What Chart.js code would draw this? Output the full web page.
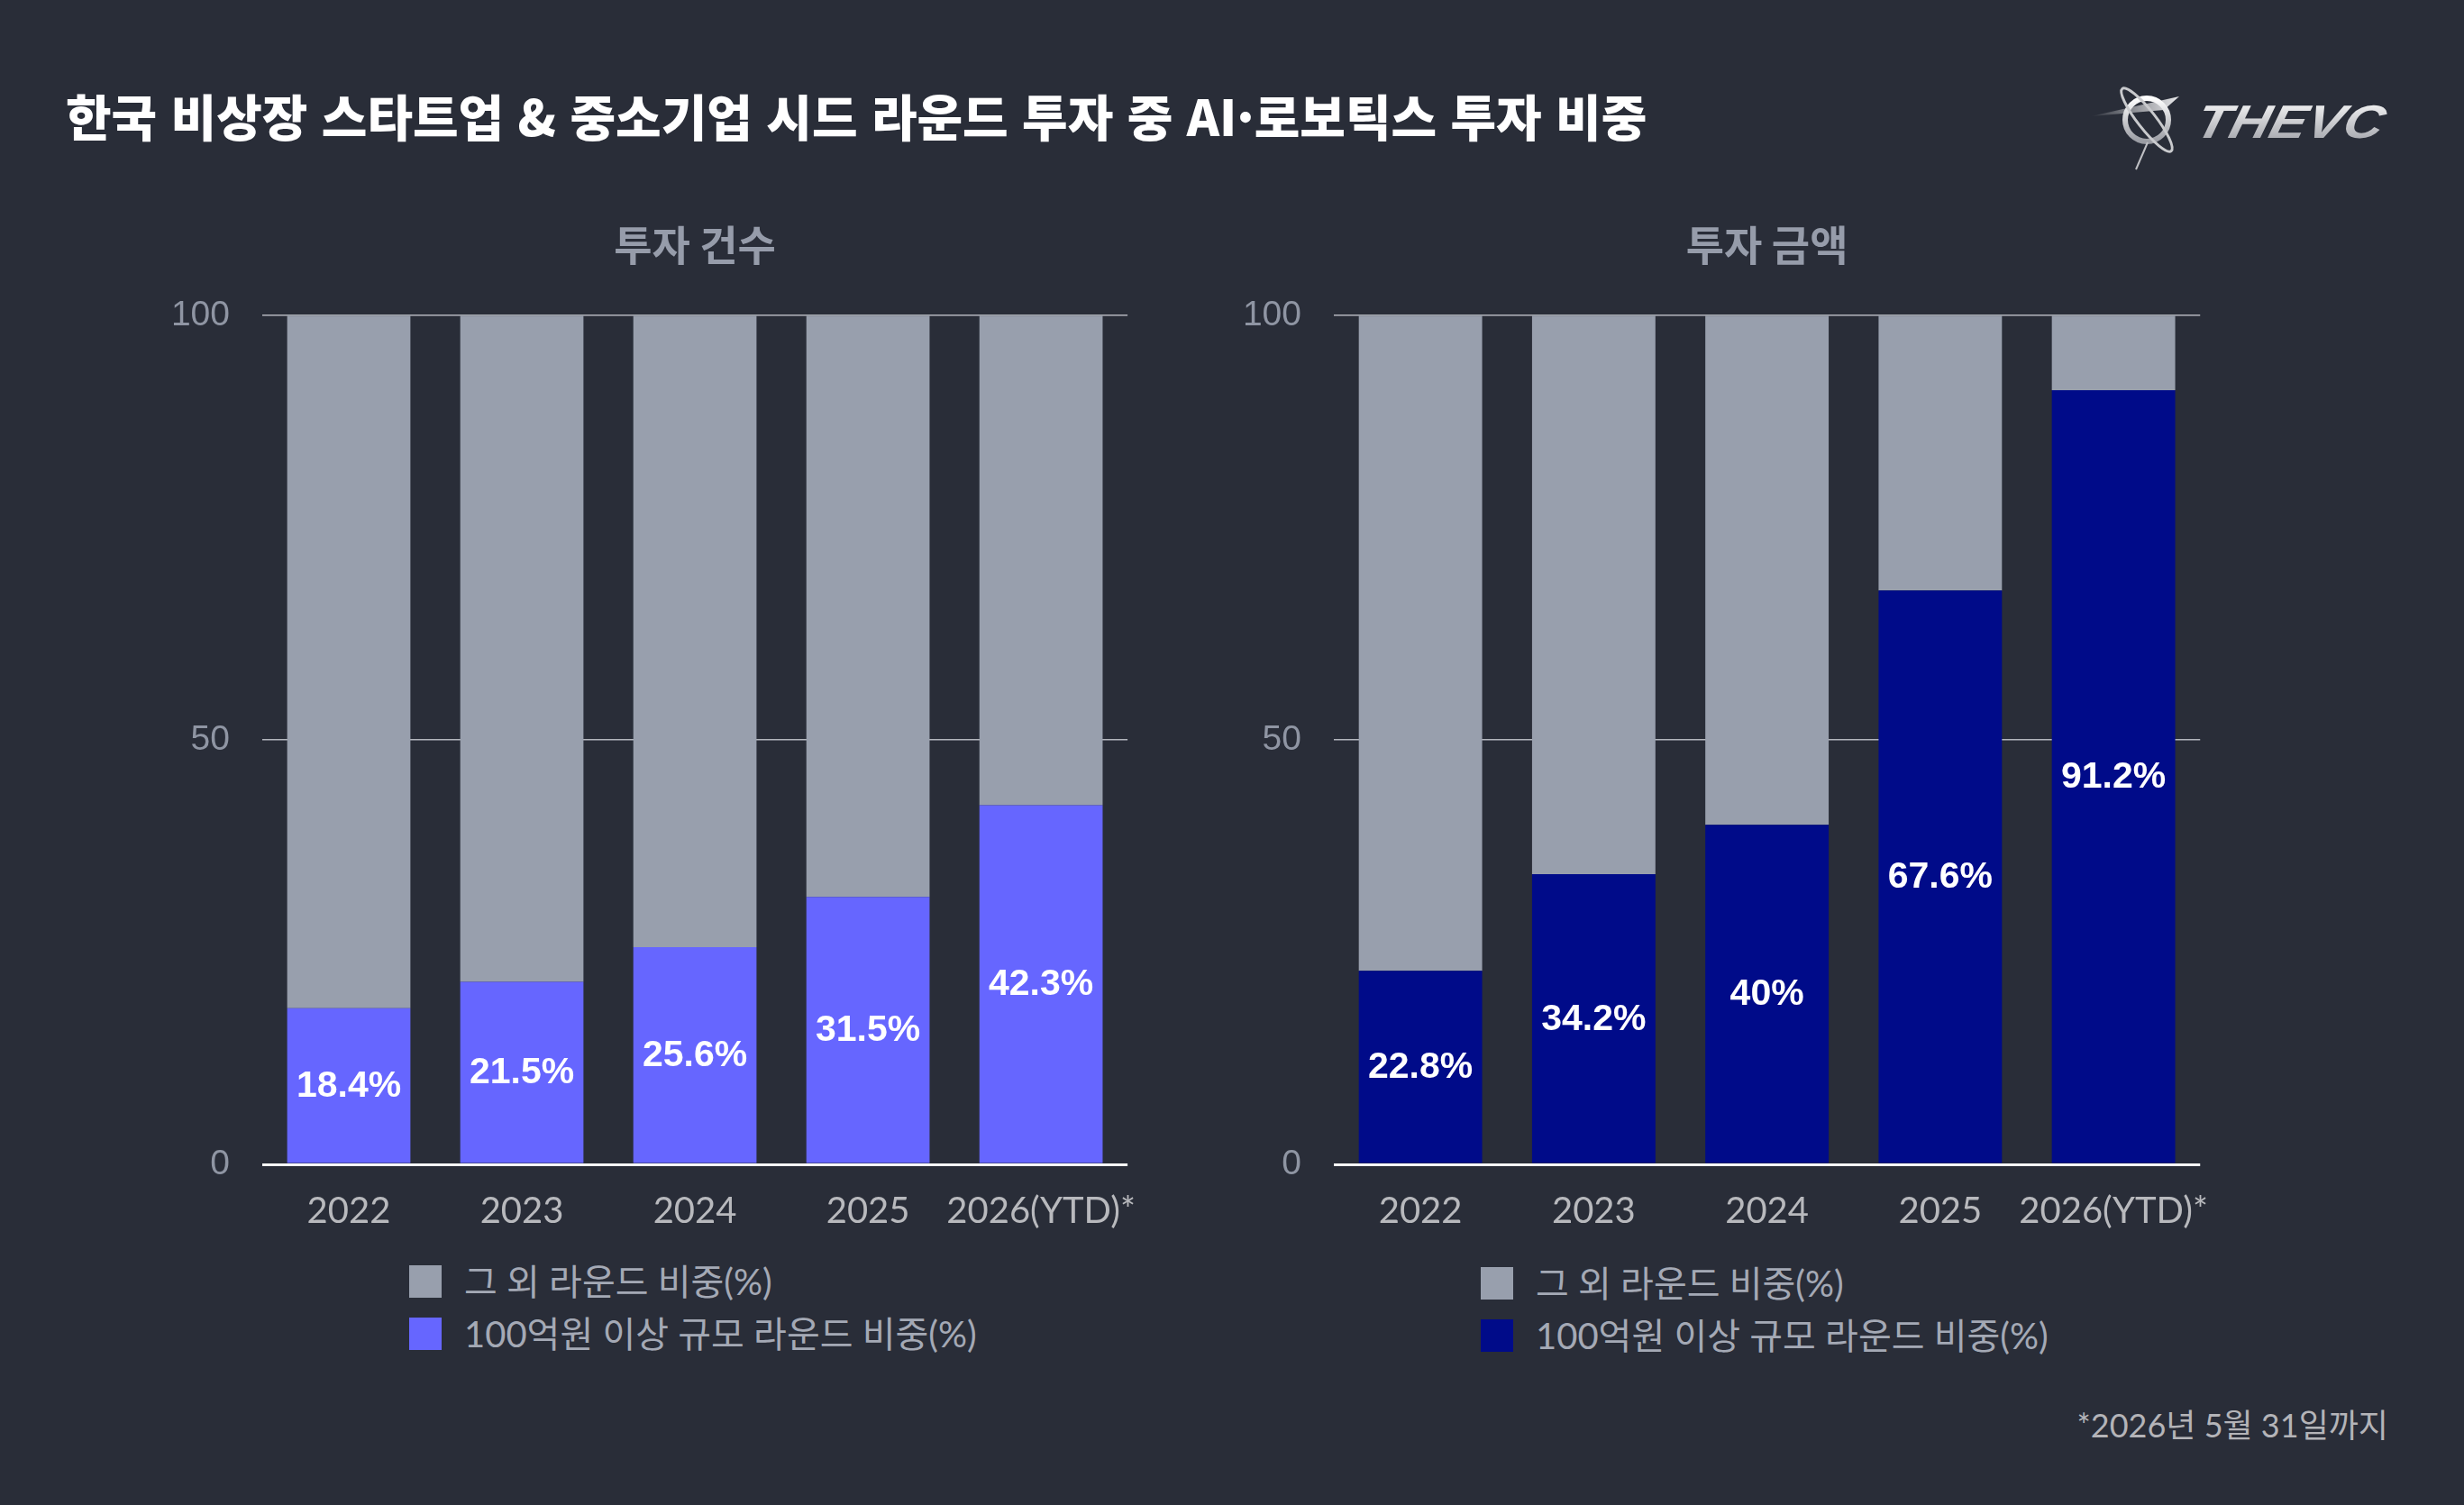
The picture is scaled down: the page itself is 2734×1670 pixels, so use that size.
<!DOCTYPE html>
<html lang="ko">
<head>
<meta charset="utf-8">
<script src="https://cdn.jsdelivr.net/npm/chart.js@4.4.1/dist/chart.umd.min.js"></script>
<style>
  html, body { margin: 0; padding: 0; }
  body { width: 2734px; height: 1670px; background: #292d38; position: relative; overflow: hidden; font-family: "Lato", "Noto Sans CJK KR", sans-serif; }
  #title { position: absolute; left: 73px; top: 96px; font-family: "Noto Sans CJK KR", sans-serif; font-weight: 900; font-size: 55px; line-height: 62px; color: #ffffff; white-space: nowrap; letter-spacing: 0px; }
  canvas { position: absolute; }
  .legend { position: absolute; }
  .legend .row { display: flex; align-items: center; height: 36px; margin-bottom: 22px; }
  .legend .sw { width: 36px; height: 36px; margin-right: 25px; flex: none; }
  .legend .tx { font-family: "Lato", "Noto Sans CJK KR", sans-serif; font-size: 40px; color: #a4a9b5; white-space: nowrap; line-height: 36px; }
  #note { position: absolute; right: 84px; top: 1553px; font-family: "Lato", "Noto Sans CJK KR", sans-serif; font-size: 36px; color: #b4b4b8; white-space: nowrap; }
  #logo { position: absolute; left: 2300px; top: 70px; }
</style>
</head>
<body>
<div id="title">한국 비상장 스타트업 &amp; 중소기업 시드 라운드 투자 중 AI·로보틱스 투자 비중</div>
<svg id="logo" width="420" height="130" viewBox="0 0 420 130">
  <defs>
    <linearGradient id="logoGradV" x1="0" y1="0" x2="0" y2="1">
      <stop offset="0" stop-color="#ffffff"/>
      <stop offset="1" stop-color="#9a9ca3"/>
    </linearGradient>
    <linearGradient id="logoGradH" x1="0" y1="0" x2="1" y2="0">
      <stop offset="0" stop-color="#ffffff" stop-opacity="0"/>
      <stop offset="1" stop-color="#e8e8ea"/>
    </linearGradient>
  </defs>
  <polygon points="20,59 118,37 101,52" fill="url(#logoGradH)"/>
  <circle cx="82" cy="63" r="24" fill="none" stroke="url(#logoGradV)" stroke-width="6"/>
  <ellipse cx="82" cy="63" rx="44" ry="10" transform="rotate(52 82 63)" fill="none" stroke="#c9cacd" stroke-width="3"/>
  <line x1="83" y1="88" x2="70" y2="118" stroke="#bfc0c4" stroke-width="2"/>
  <text x="133" y="83" font-family="Liberation Sans, Arial, sans-serif" font-weight="900" font-style="italic" font-size="52" textLength="208" lengthAdjust="spacingAndGlyphs" fill="url(#logoGradV)" transform="skewX(-14) translate(21,0)">THEVC</text>
</svg>

<canvas id="c1" width="1142" height="1159" style="left:150px; top:223px;"></canvas>
<canvas id="c2" width="1143" height="1159" style="left:1339px; top:223px;"></canvas>
<div class="legend" id="legendLeft" style="left:454px; top:1404px;"></div>
<div class="legend" id="legendRight" style="left:1643px; top:1406px;"></div>
<div id="note">*2026년 5월 31일까지</div>

<script>
// ---- data ----
const categories = ['2022', '2023', '2024', '2025', '2026(YTD)*'];
const countLarge = [18.4, 21.5, 25.6, 31.5, 42.3];
const countOther = [81.6, 78.5, 74.4, 68.5, 57.7];
const amountLarge = [22.8, 34.2, 40, 67.6, 91.2];
const amountOther = [77.2, 65.8, 60, 32.4, 8.8];
const yTickValues = [0, 50, 100];
const panelTitles = ['투자 건수', '투자 금액'];
const otherLabel = '그 외 라운드 비중(%)';
const largeLabel = '100억원 이상 규모 라운드 비중(%)';

const GRAY = '#989fad';
const BLUE_LIGHT = '#6666ff';
const BLUE_DARK = '#000b89';

const barLabelPlugin = {
  id: 'barLabels',
  afterDatasetsDraw(chart) {
    const meta = chart.getDatasetMeta(0);
    const data = chart.data.datasets[0].data;
    const ctx = chart.ctx;
    ctx.save();
    ctx.font = 'bold 41px "Liberation Sans", Arial, sans-serif';
    ctx.fillStyle = '#ffffff';
    ctx.textAlign = 'center';
    ctx.textBaseline = 'middle';
    meta.data.forEach((bar, i) => {
      const y = (bar.y + bar.base) / 2;
      ctx.fillText(data[i] + '%', bar.x, y + 1);
    });
    ctx.restore();
  }
};

function makeChart(id, title, large, other, largeColor) {
  return new Chart(document.getElementById(id), {
    type: 'bar',
    data: {
      labels: categories,
      datasets: [
        { label: largeLabel, data: large, backgroundColor: largeColor, borderWidth: 0,
          categoryPercentage: 1, barPercentage: 0.712 },
        { label: otherLabel, data: other, backgroundColor: GRAY, borderWidth: 0,
          categoryPercentage: 1, barPercentage: 0.712 }
      ]
    },
    options: {
      responsive: false,
      animation: false,
      devicePixelRatio: 1,
      layout: { padding: { left: 0, right: 40, top: 0, bottom: 0 } },
      plugins: {
        legend: { display: false },
        tooltip: { enabled: false },
        title: {
          display: true, text: title, fullSize: false,
          color: '#969caa',
          font: { family: '"Noto Sans CJK KR", sans-serif', size: 46, weight: 'bold', lineHeight: 1.2 },
          padding: { top: 21, bottom: 51 }
        }
      },
      scales: {
        x: {
          stacked: true,
          grid: { display: false, drawTicks: false },
          border: { display: false },
          ticks: { color: '#b8b9bd', padding: 28, maxRotation: 0, autoSkip: false,
                   font: { family: 'Lato, "Noto Sans CJK KR", sans-serif', size: 40 } },
          afterFit(scale) { scale.height = 90; }
        },
        y: {
          stacked: true, min: 0, max: 100,
          afterBuildTicks(scale) { scale.ticks = yTickValues.map(v => ({ value: v })); },
          grid: {
            drawTicks: false,
            color: (c) => c.tick && c.tick.value === 0 ? '#ffffff' : '#b3b6bd',
            lineWidth: (c) => c.tick && c.tick.value === 0 ? 3 : 1.5
          },
          border: { display: false },
          ticks: { color: '#8f95a3', padding: 36,
                   font: { family: '"Liberation Sans", Arial, sans-serif', size: 39 } },
          afterFit(scale) { scale.width = 141; }
        }
      }
    },
    plugins: [barLabelPlugin]
  });
}

function buildLegend(elId, chart) {
  const el = document.getElementById(elId);
  const order = [1, 0];
  order.forEach(i => {
    const ds = chart.data.datasets[i];
    const row = document.createElement('div');
    row.className = 'row';
    const sw = document.createElement('span');
    sw.className = 'sw';
    sw.style.background = ds.backgroundColor;
    const tx = document.createElement('span');
    tx.className = 'tx';
    tx.textContent = ds.label;
    row.appendChild(sw); row.appendChild(tx);
    el.appendChild(row);
  });
}

const chart1 = makeChart('c1', panelTitles[0], countLarge, countOther, BLUE_LIGHT);
const chart2 = makeChart('c2', panelTitles[1], amountLarge, amountOther, BLUE_DARK);
buildLegend('legendLeft', chart1);
buildLegend('legendRight', chart2);
</script>
</body>
</html>
